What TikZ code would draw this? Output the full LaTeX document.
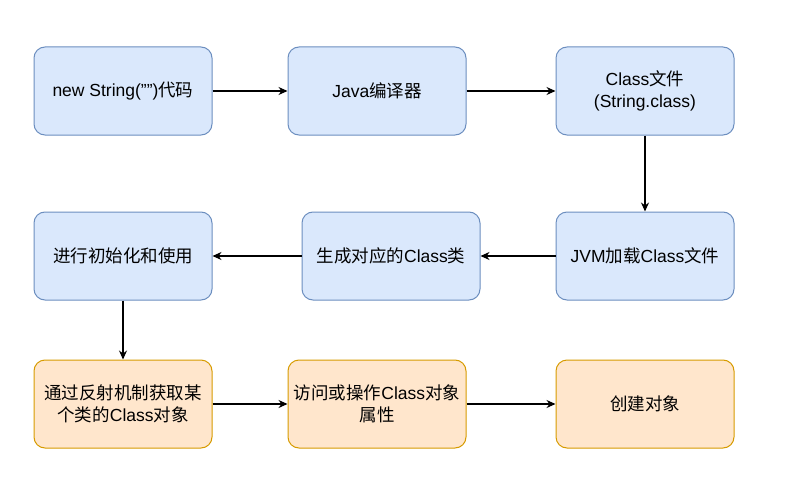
\documentclass[tikz,border=0pt]{standalone}
\usepackage{fontspec}
\setmainfont{Liberation Sans}
\newfontfamily\cjk{Noto Sans CJK SC}
\usepackage{tikz}
\usetikzlibrary{arrows.meta}

\definecolor{blueFill}{HTML}{DAE8FC}
\definecolor{blueLine}{HTML}{6C8EBF}
\definecolor{orangeFill}{HTML}{FFE6CC}
\definecolor{orangeLine}{HTML}{D79B00}

\newcommand{\zh}[1]{{\cjk #1}}

\tikzset{
  stagebox/.style={draw=blueLine, fill=blueFill, line width=1pt, rounded corners=11pt,
    minimum width=178pt, minimum height=88pt, align=center, inner sep=2pt,
    font=\fontsize{17.5}{22}\selectfont},
  reflectbox/.style={stagebox, draw=orangeLine, fill=orangeFill},
  flow/.style={-{Stealth[length=9pt,width=8pt]}, line width=1.2pt, black}
}

\begin{document}
\begin{tikzpicture}[x=1pt, y=-1pt]
  \useasboundingbox (0,0) rectangle (792,503);

  % Compile and load
  \node[stagebox] (Source) at (123, 91) {new String("")\zh{代码}};
  \node[stagebox] (Compiler) at (377, 91) {Java\zh{编译器}};
  \node[stagebox] (ClassFile) at (645, 91) {Class\zh{文件}\\(String.class)};

  \node[stagebox] (Load) at (645, 256) {JVM\zh{加载}Class\zh{文件}};
  \node[stagebox] (ClassObj) at (391, 256) {\zh{生成对应的}Class\zh{类}};
  \node[stagebox] (Init) at (123, 256) {\zh{进行初始化和使用}};

  % Reflection
  \node[reflectbox] (Reflect) at (123, 404) {\zh{通过反射机制获取某}\\\zh{个类的}Class\zh{对象}};
  \node[reflectbox] (Access) at (377, 404) {\zh{访问或操作}Class\zh{对象}\\\zh{属性}};
  \node[reflectbox] (Create) at (645, 404) {\zh{创建对象}};

  % Flow
  \draw[flow] (Source) -- (Compiler);
  \draw[flow] (Compiler) -- (ClassFile);
  \draw[flow] (ClassFile) -- (Load);
  \draw[flow] (Load) -- (ClassObj);
  \draw[flow] (ClassObj) -- (Init);
  \draw[flow] (Init) -- (Reflect);
  \draw[flow] (Reflect) -- (Access);
  \draw[flow] (Access) -- (Create);
\end{tikzpicture}
\end{document}
